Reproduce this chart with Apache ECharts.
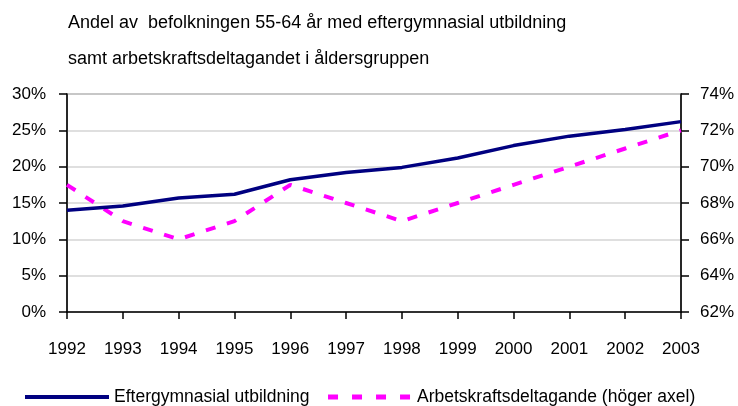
<!DOCTYPE html>
<html>
<head>
<meta charset="utf-8">
<script src="https://cdn.jsdelivr.net/npm/echarts@6/dist/echarts.min.js"></script>
<style>
  html, body { margin: 0; padding: 0; background: #fff; }
  #chart { width: 738px; height: 406px; }
</style>
</head>
<body>
<div id="chart"></div>
<script>
// Years on the category axis
const years = ['1992', '1993', '1994', '1995', '1996', '1997', '1998', '1999', '2000', '2001', '2002', '2003'];

// Share of 55-64 year olds with post-secondary education (%), left axis
const eftergymnasial = [14.0, 14.6, 15.7, 16.2, 18.2, 19.2, 19.9, 21.2, 22.9, 24.2, 25.1, 26.2];

// Labour force participation in the same age group (%), right axis
const arbetskraft = [69, 67, 66, 67, 69, 68, 67, 68, 69, 70, 71, 72];

// Axis ranges
const leftAxis = { min: 0, max: 30, interval: 5 };
const rightAxis = { min: 62, max: 74, interval: 2 };

const seriesNames = ['Eftergymnasial utbildning', 'Arbetskraftsdeltagande (höger axel)'];
const titleLines = [
  'Andel av  befolkningen 55-64 år med eftergymnasial utbildning',
  'samt arbetskraftsdeltagandet i åldersgruppen'
];

const FONT = '"Liberation Sans", Arial, sans-serif';
const AXIS_FS = 17;
const TEXT_FS = 17.5;
const TITLE_FS = 18;
const TEXT = '#000';
const NAVY = '#000080';
const MAGENTA = '#ff00ff';

const chart = echarts.init(document.getElementById('chart'), null, { renderer: 'canvas' });

chart.setOption({
  animation: false,
  backgroundColor: '#fff',
  textStyle: { fontFamily: FONT, color: TEXT },
  title: {
    text: titleLines.join('\n'),
    left: 63,
    top: 0,
    textStyle: { fontFamily: FONT, fontSize: TITLE_FS, fontWeight: 'normal', color: TEXT, lineHeight: 36 }
  },
  grid: {
    left: 67, right: 57, top: 94, bottom: 94,
    show: true, borderColor: '#7f7f7f', borderWidth: 1.5, backgroundColor: 'transparent'
  },
  legend: {
    left: 18,
    top: 383,
    itemWidth: 84,
    itemHeight: 4,
    itemGap: 16,
    itemStyle: { opacity: 0 },
    textStyle: { fontFamily: FONT, fontSize: TEXT_FS, color: TEXT },
    data: [
      { name: seriesNames[0], lineStyle: { color: NAVY, width: 4, type: 'solid' } },
      { name: seriesNames[1], lineStyle: { color: MAGENTA, width: 5, type: [10, 14] } }
    ]
  },
  xAxis: {
    type: 'category',
    data: years,
    boundaryGap: false,
    axisLine: { lineStyle: { color: '#000', width: 1.5 } },
    axisTick: { show: true, length: 7, interval: 0, lineStyle: { color: '#000', width: 1.5 } },
    axisLabel: { fontFamily: FONT, fontSize: AXIS_FS, color: TEXT, margin: 29, interval: 0 },
    splitLine: { show: false }
  },
  yAxis: [
    {
      type: 'value',
      min: leftAxis.min, max: leftAxis.max, interval: leftAxis.interval,
      position: 'left',
      axisLine: { show: true, lineStyle: { color: '#000', width: 1.5 } },
      axisTick: { show: true, length: 8, lineStyle: { color: '#000', width: 1.5 } },
      axisLabel: { fontFamily: FONT, fontSize: AXIS_FS, color: TEXT, margin: 21, formatter: v => v + '%' },
      splitLine: { show: true, lineStyle: { color: '#d4d4d4', width: 1.5 } }
    },
    {
      type: 'value',
      min: rightAxis.min, max: rightAxis.max, interval: rightAxis.interval,
      position: 'right',
      axisLine: { show: true, lineStyle: { color: '#000', width: 1.5 } },
      axisTick: { show: true, length: 8, lineStyle: { color: '#000', width: 1.5 } },
      axisLabel: { fontFamily: FONT, fontSize: AXIS_FS, color: TEXT, margin: 19, formatter: v => v + '%' },
      splitLine: { show: false }
    }
  ],
  series: [
    {
      name: seriesNames[0],
      type: 'line',
      yAxisIndex: 0,
      data: eftergymnasial,
      symbol: 'none',
      itemStyle: { color: NAVY },
      lineStyle: { color: NAVY, width: 3.5 },
      z: 3
    },
    {
      name: seriesNames[1],
      type: 'line',
      yAxisIndex: 1,
      data: arbetskraft,
      symbol: 'none',
      itemStyle: { color: MAGENTA },
      lineStyle: { color: MAGENTA, width: 4, type: [10, 12] },
      z: 2
    }
  ]
});
</script>
</body>
</html>
